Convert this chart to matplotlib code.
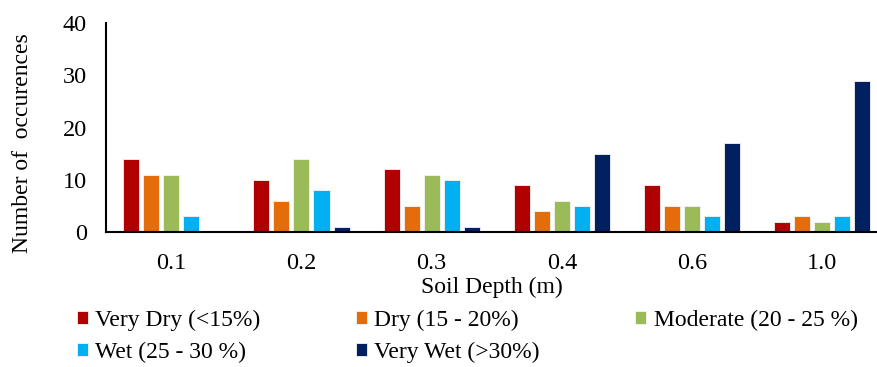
import matplotlib
matplotlib.use("Agg")
import matplotlib.pyplot as plt
import numpy as np

depths = ["0.1", "0.2", "0.3", "0.4", "0.6", "1.0"]
series_names = ["Very Dry (<15%)", "Dry (15 - 20%)", "Moderate (20 - 25 %)",
                "Wet (25 - 30 %)", "Very Wet (>30%)"]
very_dry = [14, 10, 12, 9, 9, 2]
dry = [11, 6, 5, 4, 5, 3]
moderate = [11, 14, 11, 6, 5, 2]
wet = [3, 8, 10, 5, 3, 3]
very_wet = [0, 1, 1, 15, 17, 29]
colors = ["#B00000", "#E46C0A", "#9BBB59", "#00B0F0", "#002060"]

plt.rcParams["font.family"] = ["Liberation Serif", "DejaVu Serif"]

fig = plt.figure(figsize=(8.77, 3.67), dpi=100)
ax = fig.add_axes([0.121, 0.368, 0.879, 0.569])

x = np.arange(len(depths))
step = 0.154
width = 0.123
all_series = [very_dry, dry, moderate, wet, very_wet]
handles = []
for i, (vals, c, name) in enumerate(zip(all_series, colors, series_names)):
    h = ax.bar(x + (i - 2) * step, vals, width=width, color=c, label=name,
               edgecolor="#f4f4f4", linewidth=0.6)
    handles.append(h)

ax.set_xlim(-0.5, 5.42)
ax.set_ylim(0, 40)
ax.set_yticks([0, 10, 20, 30, 40])
ax.set_xticks(x)
ax.set_xticklabels(depths)
ax.tick_params(axis="both", length=0, labelsize=17.5)
ax.tick_params(axis="x", pad=15.5)
ax.tick_params(axis="y", pad=14)
for s in ["top", "right"]:
    ax.spines[s].set_visible(False)
ax.spines["left"].set_linewidth(1.5)
ax.spines["bottom"].set_linewidth(1.5)
ax.set_xlabel("Soil Depth (m)", fontsize=17, labelpad=2)
ax.set_ylabel("Number of  occurences", fontsize=17)
ax.yaxis.set_label_coords(-0.095, 0.426)

order = [0, 3, 1, 4, 2]
fig.legend(handles=[handles[i] for i in order],
           labels=[series_names[i] for i in order], ncol=3, frameon=False,
           loc="upper left", bbox_to_anchor=(0.0878, 0.155), fontsize=17,
           handlelength=0.47, handleheight=0.47, handletextpad=0.3,
           columnspacing=4.05, labelspacing=0.45, borderaxespad=0, borderpad=0)

fig.savefig("out.png", dpi=100)
